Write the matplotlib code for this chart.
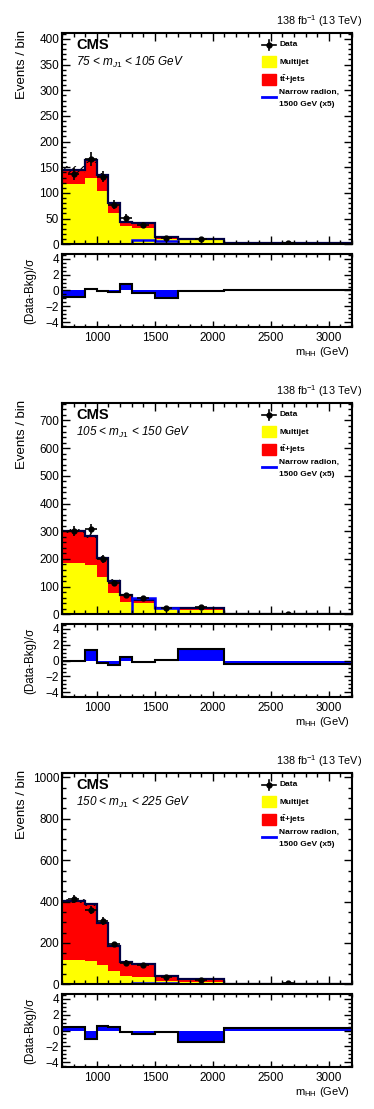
import numpy as np
import matplotlib
matplotlib.use("Agg")
import matplotlib.pyplot as plt
from matplotlib.patches import Rectangle
from matplotlib.lines import Line2D
from matplotlib.ticker import MultipleLocator

plt.rcParams['font.family'] = ['Liberation Sans', 'DejaVu Sans']
plt.rcParams['mathtext.fontset'] = 'custom'
plt.rcParams['mathtext.rm'] = 'Liberation Sans'
plt.rcParams['mathtext.it'] = 'Liberation Sans:italic'
plt.rcParams['mathtext.bf'] = 'Liberation Sans:bold'
plt.rcParams['hatch.linewidth'] = 0.8

# ---------------- data ----------------
bin_edges = [700, 900, 1000, 1100, 1200, 1300, 1500, 1700, 2100, 3200]

region_labels = [r"75 < $m_{J1}$ < 105 GeV",
                 r"105 < $m_{J1}$ < 150 GeV",
                 r"150 < $m_{J1}$ < 225 GeV"]

multijet_1 = [117, 130, 103, 60, 36, 31, 10, 8, 1]
ttbar_1 = [28, 34, 32, 20, 8, 10, 4, 2, 1]
data_1 = [136, 166, 132, 77, 51, 38, 12, 10, 2]
signal_1 = [0, 0, 0, 0, 1, 9, 6, 1, 0]
unc_1 = [7, 5, 4, 3, 2, 2, 1, 1, 0.5]
pull_1 = [-0.8, 0.2, -0.1, -0.25, 0.85, -0.35, -0.9, -0.1, 0.05]

multijet_2 = [187, 178, 133, 76, 46, 40, 18, 16, 0.5]
ttbar_2 = [114, 106, 72, 46, 24, 12, 6, 6, 0.5]
data_2 = [301, 307, 200, 114, 70, 58, 24, 25, 2]
signal_2 = [0, 0, 0, 0, 1, 60, 22, 1, 0]
unc_2 = [8, 7, 5, 4, 2, 2, 1, 1, 0.3]
pull_2 = [0.0, 1.3, -0.3, -0.6, 0.4, -0.15, 0.1, 1.4, -0.5]

multijet_3 = [118, 113, 93, 64, 40, 37, 18, 13, 1]
ttbar_3 = [285, 273, 205, 123, 70, 61, 22, 13, 1]
data_3 = [412, 359, 306, 193, 105, 93, 37, 21, 5]
signal_3 = [0, 0, 0, 0, 1, 8, 5, 1, 0]
unc_3 = [10, 9, 7, 5, 3, 3, 1.5, 1.5, 0.3]
pull_3 = [0.5, -1.1, 0.6, 0.5, -0.25, -0.5, -0.2, -1.4, 0.3]

y_max = [411, 762, 1020]
y_major = [50, 100, 200]
y_minor = [10, 20, 50]

panels = [
    (multijet_1, ttbar_1, data_1, signal_1, unc_1, pull_1),
    (multijet_2, ttbar_2, data_2, signal_2, unc_2, pull_2),
    (multijet_3, ttbar_3, data_3, signal_3, unc_3, pull_3),
]

# ---------------- figure ----------------
W, H = 374, 1109
fig = plt.figure(figsize=(W / 100, H / 100), dpi=100)


def fx(x):
    return x / W


def fy(y):
    return 1 - y / H


YELLOW = '#ffff00'
RED = '#ff0000'
BLUE = '#0000ff'
NAVY = '#000044'

edges = np.array(bin_edges, dtype=float)
centers = 0.5 * (edges[:-1] + edges[1:])


def style_ticks(ax, xminor=100, xmajor=500):
    ax.tick_params(which='both', direction='in', top=True, right=True,
                   width=1.0, labelsize=8.5, pad=2)
    ax.tick_params(which='major', length=5.5)
    ax.tick_params(which='minor', length=3)
    ax.xaxis.set_major_locator(MultipleLocator(xmajor))
    ax.xaxis.set_minor_locator(MultipleLocator(xminor))
    for s in ax.spines.values():
        s.set_linewidth(1.5)


for i, (mj, tt, dat, sig, unc, pull) in enumerate(panels):
    dy = 370 * i
    mj = np.array(mj, float)
    tt = np.array(tt, float)
    dat = np.array(dat, float)
    sig = np.array(sig, float)
    unc = np.array(unc, float)
    pull = np.array(pull, float)
    tot = mj + tt

    ax = fig.add_axes([fx(62), fy(244.3 + dy), 290 / W, 211 / H])
    ax.stairs(mj, edges, baseline=0, fill=True, color=YELLOW, lw=0)
    ax.stairs(tot, edges, baseline=mj, fill=True, color=RED, lw=0)
    ax.stairs(tot + unc, edges, baseline=tot - unc, fill=True,
              facecolor='none', edgecolor='black', hatch='////', lw=0)
    ax.stairs(tot, edges, baseline=None, color=NAVY, lw=1.6)
    ax.stairs(sig, edges, baseline=None, color=BLUE, lw=1.8)
    ax.errorbar(centers, dat, yerr=np.sqrt(dat), xerr=50, fmt='o',
                color='black', ms=3.5, elinewidth=1.2, capsize=0)
    ax.set_xlim(700, 3200)
    ax.set_ylim(0, y_max[i])
    style_ticks(ax)
    ax.yaxis.set_major_locator(MultipleLocator(y_major[i]))
    ax.yaxis.set_minor_locator(MultipleLocator(y_minor[i]))
    ax.tick_params(axis='x', labelbottom=False)

    rax = fig.add_axes([fx(62), fy(327 + dy), 290 / W, 73 / H])
    rax.stairs(pull, edges, baseline=0, fill=True, color=BLUE, lw=0)
    rax.stairs(pull, edges, baseline=None, color='black', lw=1.5)
    rax.set_xlim(700, 3200)
    rax.set_ylim(-4.6, 4.6)
    style_ticks(rax)
    rax.yaxis.set_major_locator(MultipleLocator(2))
    rax.yaxis.set_minor_locator(MultipleLocator(0.5))
    rax.tick_params(axis='x', which='major', length=4)
    rax.tick_params(axis='x', which='minor', length=2)
    rax.tick_params(axis='x', pad=3.5)

    # texts
    fig.text(fx(362), fy(21 + dy), r"138 fb$^{-1}$ (13 TeV)", ha='right',
             va='center', fontsize=7.8)
    fig.text(fx(76), fy(45 + dy), "CMS", ha='left', va='center',
             fontsize=10.5, fontweight='bold')
    fig.text(fx(76), fy(62 + dy), region_labels[i], ha='left', va='center',
             fontsize=8.5, style='italic')
    fig.text(fx(22), fy(30 + dy), "Events / bin", rotation=90, ha='center',
             va='top', fontsize=9.5)
    fig.text(fx(30), fy(291 + dy), "(Data-Bkg)/σ", rotation=90, ha='center',
             va='center', fontsize=8.3)
    fig.text(fx(350), fy(352 + dy), r"m$_{\mathrm{HH}}$ (GeV)", ha='right',
             va='center', fontsize=8)

    # legend
    lx0, lx1 = 262, 276
    fig.add_artist(Line2D([fx(lx0), fx(lx1)], [fy(45 + dy)] * 2,
                          color='black', lw=1.2, transform=fig.transFigure))
    fig.add_artist(Line2D([fx(269)] * 2, [fy(40 + dy), fy(50 + dy)],
                          color='black', lw=1.2, transform=fig.transFigure))
    fig.add_artist(Line2D([fx(269)], [fy(45 + dy)], marker='o', ms=3.5,
                          color='black', transform=fig.transFigure))
    fig.add_artist(Rectangle((fx(lx0), fy(67 + dy)), (lx1 - lx0) / W, 11 / H,
                             color=YELLOW, transform=fig.transFigure))
    fig.add_artist(Rectangle((fx(lx0), fy(85 + dy)), (lx1 - lx0) / W, 11 / H,
                             color=RED, transform=fig.transFigure))
    fig.add_artist(Line2D([fx(lx0), fx(lx1)], [fy(97 + dy)] * 2,
                          color=BLUE, lw=2, transform=fig.transFigure))
    tx = 279
    fig.text(fx(tx), fy(45 + dy), "Data", fontsize=6, fontweight='bold',
             va='center')
    fig.text(fx(tx), fy(62 + dy), "Multijet", fontsize=6, fontweight='bold',
             va='center')
    fig.text(fx(tx), fy(80 + dy), r"$\mathbf{t\bar{t}}$+jets", fontsize=6,
             fontweight='bold', va='center')
    fig.text(fx(tx), fy(92 + dy), "Narrow radion,", fontsize=6,
             fontweight='bold', va='center')
    fig.text(fx(tx), fy(104 + dy), "1500 GeV (x5)", fontsize=6,
             fontweight='bold', va='center')

fig.savefig("out.png", dpi=100)
